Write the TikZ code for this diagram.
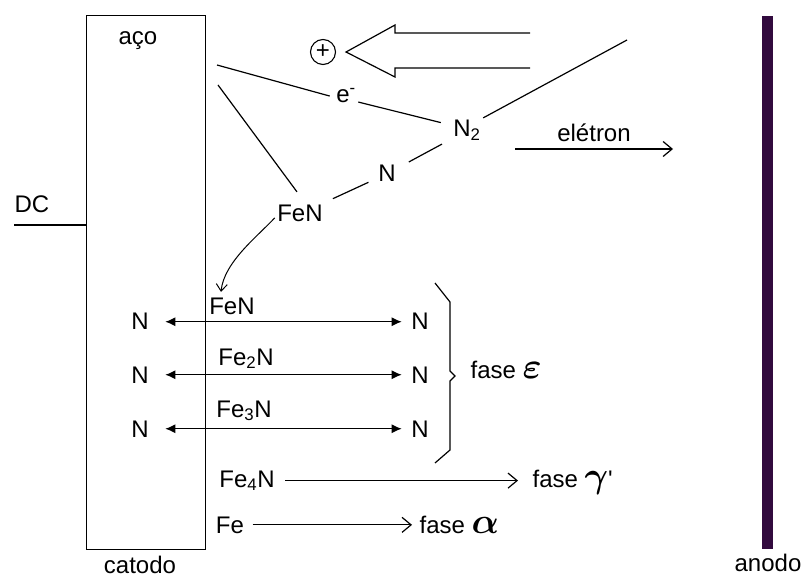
\documentclass[tikz,border=0pt]{standalone}
\usepackage{fontspec}
\setmainfont{Liberation Sans}
\usepackage{graphicx}
\usepackage{tikz}
\usetikzlibrary{arrows.meta,positioning,calc}
\definecolor{anodopurple}{RGB}{50,10,62}
\newcommand{\grk}[1]{\scalebox{1.45}{\boldmath$#1$}}

\begin{document}
\begin{tikzpicture}[x=1pt, y=-1pt, line width=1.2pt,
  every node/.style={font=\fontsize{24}{28}\selectfont, inner sep=2pt}]
  \tikzstyle{lbl} = [anchor=base]
  \tikzstyle{fase} = [anchor=base west]
  \tikzstyle{dblarrow} = [{Latex[length=10pt,width=9pt]}-{Latex[length=10pt,width=9pt]}]
  \tikzstyle{openarrow} = [-{Straight Barb[length=9pt,width=15pt]}]
  \useasboundingbox (0,0) rectangle (806,577);

  % electrodes
  \node[draw, minimum width=119pt, minimum height=534pt, anchor=north west] (catodo) at (86,15) {};
  \node[fill=anodopurple, minimum width=11pt, minimum height=533pt, inner sep=0pt, anchor=north] (anodo) at (767.5,15) {};
  \node[lbl] (aco) at (138,45) {aço};
  \node[lbl] (catodolbl) at (140,573) {catodo};
  \node[lbl] (anodolbl) at (768,571) {anodo};
  \node[lbl] (dc) at (32,213) {DC};
  \coordinate (dcline) at (14,225);
  \draw (dcline) -- (dcline -| catodo.west);

  % ion and gas
  \node[draw, circle, minimum size=25pt, inner sep=0pt, line width=1.1pt, font=\fontsize{24}{24}\selectfont] (plus) at (323,52) {+};
  \coordinate (hollowa) at (530,33);
  \coordinate (hollowb) at (530,68);
  \draw (hollowa) -- (395,33) -- (395,25) -- ([xshift=10pt]plus.east) -- (395,77) -- (395,68) -- (hollowb);

  \node[lbl] (eminus) at (346,103) {e\textsuperscript{-}};
  \node[lbl] (n2) at (467,137) {N\textsubscript{2}};
  \node[lbl] (nmid) at (387,182) {N};
  \node[lbl] (fen) at (300,222) {FeN};
  \coordinate (ca) at (217,65);
  \coordinate (cb) at (218,85);
  \coordinate (cc) at (627,40);
  \draw (ca) -- ([xshift=-4pt]eminus.west);
  \draw ([yshift=-6pt]eminus.east) -- ([shift={(-10pt,8pt)}]n2.west);
  \draw (n2.north east) -- (cc);
  \draw (cb) -- ([shift={(-3pt,11pt)}]fen.north);
  \draw[shorten <=10pt, shorten >=8pt] (fen) -- (nmid);
  \draw[shorten <=12pt, shorten >=10pt] (nmid) -- (n2);

  \coordinate (ela) at (515,149);
  \coordinate (elb) at (673,149);
  \draw[openarrow] (ela) -- node[above=5pt] (eletron) {elétron} (elb);

  % nitrides
  \node[lbl] (fena) at (232,315) {FeN};
  \node[lbl] (fe2n) at (246,365) {Fe\textsubscript{2}N};
  \node[lbl] (fe3n) at (244,417) {Fe\textsubscript{3}N};
  \node[lbl] (fe4n) at (247,487) {Fe\textsubscript{4}N};
  \node[lbl] (fe) at (230,533) {Fe};
  \draw[-{Straight Barb[length=7pt,width=11pt]}, line width=1pt] ([yshift=-4pt]fen.west) .. controls (258,236) and (224,262) .. ([shift={(-11pt,4pt)}]fena.north);

  \foreach \i/\y in {1/330, 2/383, 3/437} {
    \node[lbl] (nl\i) at (140,\y) {N};
    \node[lbl] (nr\i) at (420,\y) {N};
    \draw[dblarrow] ([xshift=14pt]nl\i.east) -- ([xshift=-7pt]nr\i.west);
  }

  \draw (435,283) -- (450,302) -- (450,371) -- (455,376) -- (450,381) -- (450,450) -- (435,463);
  \node[fase] (fepsilon) at (468,378) {fase \grk{\varepsilon}};
  \node[fase] (fgamma) at (530,487) {fase \grk{\gamma}\textquotesingle};
  \node[fase] (falpha) at (417,533) {fase \grk{\alpha}};
  \draw[openarrow, shorten <=8pt, shorten >=12pt] (fe4n.east) -- (fe4n.east -| fgamma.west);
  \draw[openarrow, shorten <=6pt, shorten >=5pt] (fe.east) -- (fe.east -| falpha.west);
\end{tikzpicture}
\end{document}
